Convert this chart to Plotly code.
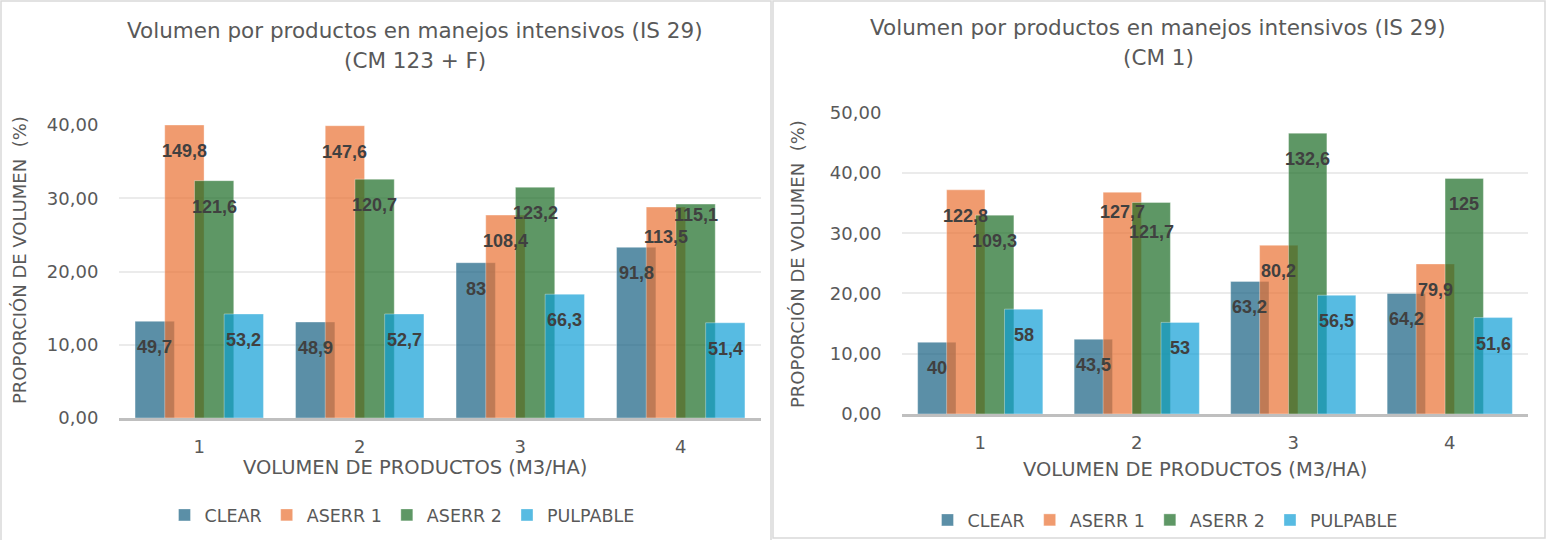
import plotly.graph_objects as go

W, H = 1546, 540

categories = ["1", "2", "3", "4"]
series = ["CLEAR", "ASERR 1", "ASERR 2", "PULPABLE"]
colors = ["21,96,130", "233,113,50", "25,107,36", "15,158,213"]

# left chart: (CM 123 + F)
left_clear = [13.2, 13.1, 21.2, 23.3]
left_aserr1 = [40.0, 39.9, 27.7, 28.8]
left_aserr2 = [32.4, 32.6, 31.5, 29.2]
left_pulpable = [14.2, 14.2, 16.9, 13.0]
left_lbl_clear = ["49,7", "48,9", "83", "91,8"]
left_lbl_aserr1 = ["149,8", "147,6", "108,4", "113,5"]
left_lbl_aserr2 = ["121,6", "120,7", "123,2", "115,1"]
left_lbl_pulpable = ["53,2", "52,7", "66,3", "51,4"]

# right chart: (CM 1)
right_clear = [11.9, 12.4, 22.0, 20.0]
right_aserr1 = [37.2, 36.8, 28.0, 24.9]
right_aserr2 = [33.0, 35.1, 46.6, 39.1]
right_pulpable = [17.4, 15.2, 19.7, 16.0]
right_lbl_clear = ["40", "43,5", "63,2", "64,2"]
right_lbl_aserr1 = ["122,8", "127,7", "80,2", "79,9"]
right_lbl_aserr2 = ["109,3", "121,7", "132,6", "125"]
right_lbl_pulpable = ["58", "53", "56,5", "51,6"]

left_title = ["Volumen por productos en manejos intensivos (IS 29)", "(CM 123 + F)"]
right_title = ["Volumen por productos en manejos intensivos (IS 29)", "(CM 1)"]
x_title = "VOLUMEN DE PRODUCTOS (M3/HA)"
y_title = "PROPORCIÓN DE VOLUMEN  (%)"

# overlapping bars: each bar shifted from the previous one by less than its width
BAR_W = 0.245
OFFSETS = [-0.4, -0.215, -0.03, 0.155]
LBL_SHIFT = -26
# labels that Excel pushed apart to avoid collisions: (panel, series, category) -> shift
LBL_NUDGE = {(0, 1, 3): -30, (0, 2, 3): -11, (1, 1, 1): -20, (1, 2, 1): -30}

GREY = "#595959"
TXT = "DejaVu Sans"


def px_x(v):
    return v / W


def px_y(v):
    return 1 - v / H


fig = go.Figure()

panels = [
    dict(xa="x", ya="y", legend="legend",
         vals=[left_clear, left_aserr1, left_aserr2, left_pulpable],
         lbls=[left_lbl_clear, left_lbl_aserr1, left_lbl_aserr2, left_lbl_pulpable]),
    dict(xa="x2", ya="y2", legend="legend2",
         vals=[right_clear, right_aserr1, right_aserr2, right_pulpable],
         lbls=[right_lbl_clear, right_lbl_aserr1, right_lbl_aserr2, right_lbl_pulpable]),
]

xs = [i + 1 for i in range(len(categories))]
annotations = []
for pi, p in enumerate(panels):
    for si, (name, col, off, vals, lbls) in enumerate(zip(series, colors, OFFSETS, p["vals"], p["lbls"])):
        fig.add_trace(go.Bar(
            x=xs, y=vals, name=name, width=BAR_W, offset=off,
            marker=dict(color=f"rgba({col},0.7)", line=dict(width=1, color="rgba(255,255,255,0.35)")),
            xaxis=p["xa"], yaxis=p["ya"], legend=p["legend"], hoverinfo="skip",
        ))
        for ci, (xi, v, t) in enumerate(zip(xs, vals, lbls)):
            annotations.append(dict(
                x=xi + off + BAR_W / 2, y=v, xref=p["xa"], yref=p["ya"], text=t,
                showarrow=False, yshift=LBL_NUDGE.get((pi, si, ci), LBL_SHIFT), yanchor="middle",
                font=dict(family="Liberation Sans, Arial", size=18, color="#404040", weight="bold"),
            ))

# chart titles
for cx, ys, lines in [(415, (30, 60), left_title), (1158, (28, 58), right_title)]:
    for yy, line in zip(ys, lines):
        annotations.append(dict(x=px_x(cx), y=px_y(yy), xref="paper", yref="paper", text=line,
                                showarrow=False, xanchor="center", yanchor="middle",
                                font=dict(family=TXT, size=21.5, color=GREY)))

# axis titles
for cx, cy in [(415, 467), (1195, 469)]:
    annotations.append(dict(x=px_x(cx), y=px_y(cy), xref="paper", yref="paper", text=x_title,
                            showarrow=False, xanchor="center", yanchor="middle",
                            font=dict(family=TXT, size=19.5, color=GREY)))
for cx, cy in [(20, 260), (797, 264)]:
    annotations.append(dict(x=px_x(cx), y=px_y(cy), xref="paper", yref="paper", text=y_title,
                            showarrow=False, textangle=-90, xanchor="center", yanchor="middle",
                            font=dict(family=TXT, size=18, color=GREY)))

xaxis_common = dict(range=[0.5, 4.5], tickvals=xs, ticktext=categories, showgrid=False,
                    zeroline=False, showline=True, linecolor="#BFBFBF", linewidth=2.5,
                    ticks="outside", ticklen=11, tickcolor="rgba(0,0,0,0)", automargin=False,
                    tickfont=dict(family=TXT, size=18, color=GREY))
yaxis_common = dict(tickformat=".2f", dtick=10, showgrid=True, gridcolor="#EBEBEB", gridwidth=1.5,
                    zeroline=False, showline=False, ticks="outside", ticklen=16, automargin=False,
                    tickcolor="rgba(0,0,0,0)", tickfont=dict(family=TXT, size=18, color=GREY))

legend_font = dict(family=TXT, size=17.5, color=GREY)
fig.update_layout(
    width=W, height=H, margin=dict(l=0, r=0, t=0, b=0, autoexpand=False),
    paper_bgcolor="white", plot_bgcolor="white",
    barmode="overlay", separators=",.",
    xaxis=dict(domain=[px_x(119), px_x(761)], anchor="y", **xaxis_common),
    yaxis=dict(domain=[px_y(418), px_y(125)], anchor="x", range=[0, 40], **yaxis_common),
    xaxis2=dict(domain=[px_x(902), px_x(1528)], anchor="y2", **xaxis_common),
    yaxis2=dict(domain=[px_y(414), px_y(112.7)], anchor="x2", range=[0, 50], **yaxis_common),
    legend=dict(orientation="h", x=px_x(402), y=px_y(515), xanchor="center", yanchor="middle",
                font=legend_font, itemwidth=30, bgcolor="rgba(0,0,0,0)"),
    legend2=dict(orientation="h", x=px_x(1165), y=px_y(520), xanchor="center", yanchor="middle",
                 font=legend_font, itemwidth=30, bgcolor="rgba(0,0,0,0)"),
    annotations=annotations,
    shapes=[
        dict(type="rect", xref="paper", yref="paper", x0=px_x(1), x1=px_x(771), y0=-0.1, y1=px_y(1),
             line=dict(color="#D9D9D9", width=1.5)),
        dict(type="rect", xref="paper", yref="paper", x0=px_x(773), x1=px_x(1545), y0=px_y(538), y1=px_y(1),
             line=dict(color="#D9D9D9", width=1.5)),
    ],
)

# pin the figure to the top-left corner of the window
pin = ("document.body.style.margin='0';document.body.style.overflow='hidden';"
       "var d=document.getElementById('{plot_id}');d.style.position='fixed';"
       "d.style.left='0';d.style.top='0';")
fig.write_html("out.html", post_script=pin, config={"displayModeBar": False})
